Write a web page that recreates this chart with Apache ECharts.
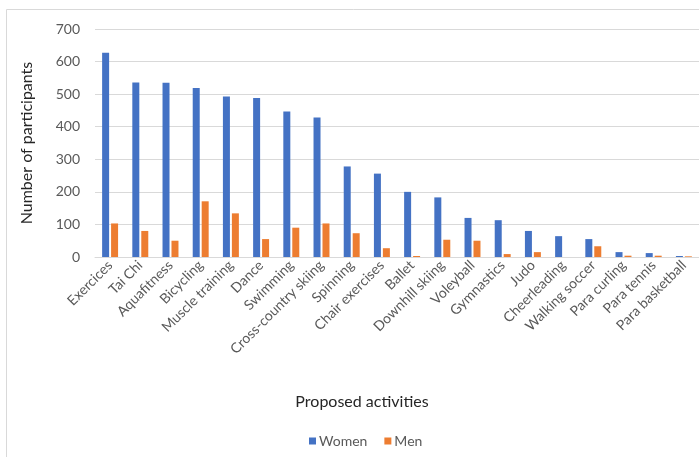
<!DOCTYPE html>
<html>
<head>
<meta charset="utf-8">
<script src="https://cdn.jsdelivr.net/npm/echarts@6/dist/echarts.min.js"></script>
<style>
  html, body { margin: 0; padding: 0; background: #ffffff; }
  #chart { width: 699px; height: 457px; }
</style>
</head>
<body>
<div id="chart"></div>
<script>
// Activities offered, ordered by number of women taking part
const activities = [
  'Exercices', 'Tai Chi', 'Aquafitness', 'Bicycling', 'Muscle training',
  'Dance', 'Swimming', 'Cross-country skiing', 'Spinning', 'Chair exercises',
  'Ballet', 'Downhill skiing', 'Voleyball', 'Gymnastics', 'Judo',
  'Cheerleading', 'Walking soccer', 'Para curling', 'Para tennis', 'Para basketball'
];
const women = [627, 536, 535, 519, 493, 488, 447, 428, 278, 256, 200, 183, 120, 113, 80, 64, 55, 15, 12, 3];
const men   = [103, 80, 50, 171, 134, 55, 90, 103, 73, 27, 3, 53, 50, 9, 15, 0, 33, 4, 4, 2];
const yTicks = { min: 0, max: 700, interval: 100 };

const font = 'Lato, "Open Sans", sans-serif';
const labelGrey = '#595959';
const lineGrey = '#d9d9d9';

const chart = echarts.init(document.getElementById('chart'), null, { renderer: 'canvas' });
chart.setOption({
  animation: false,
  textStyle: { fontFamily: font },
  grid: { left: 95, top: 29, width: 605, height: 228, containLabel: false },
  graphic: [{
    type: 'rect',
    shape: { x: 6.5, y: 9.5, width: 800, height: 600 },
    style: { fill: 'none', stroke: lineGrey, lineWidth: 1 },
    silent: true
  }],
  legend: {
    data: ['Women', 'Men'],
    left: 304,
    top: 429,
    itemWidth: 7,
    itemHeight: 7,
    itemGap: 17,
    icon: 'rect',
    textStyle: { fontFamily: font, fontSize: 14, color: labelGrey, padding: [0, 0, 0, -2] }
  },
  xAxis: {
    type: 'category',
    data: activities,
    name: 'Proposed activities',
    nameLocation: 'middle',
    nameGap: 137,
    nameTextStyle: { fontFamily: font, fontSize: 16, color: '#262626', padding: [0, 70, 0, 0] },
    axisLine: { lineStyle: { color: lineGrey, width: 1 } },
    axisTick: { show: false },
    axisLabel: { rotate: 45, interval: 0, fontSize: 14, color: labelGrey, margin: 6, fontFamily: font }
  },
  yAxis: {
    type: 'value',
    min: yTicks.min,
    max: yTicks.max,
    interval: yTicks.interval,
    name: 'Number of participants',
    nameLocation: 'middle',
    nameGap: 60,
    nameTextStyle: { fontFamily: font, fontSize: 16, color: '#262626' },
    axisLine: { show: false },
    axisTick: { show: false },
    axisLabel: { fontSize: 14, color: labelGrey, margin: 15, fontFamily: font },
    splitLine: { lineStyle: { color: lineGrey, width: 1 } }
  },
  series: [
    {
      name: 'Women', type: 'bar', data: women,
      barWidth: 7, barGap: '28%',
      itemStyle: { color: '#4472C4' }
    },
    {
      name: 'Men', type: 'bar', data: men,
      barWidth: 7, barGap: '28%',
      itemStyle: { color: '#ED7D31' }
    }
  ]
});
</script>
</body>
</html>
